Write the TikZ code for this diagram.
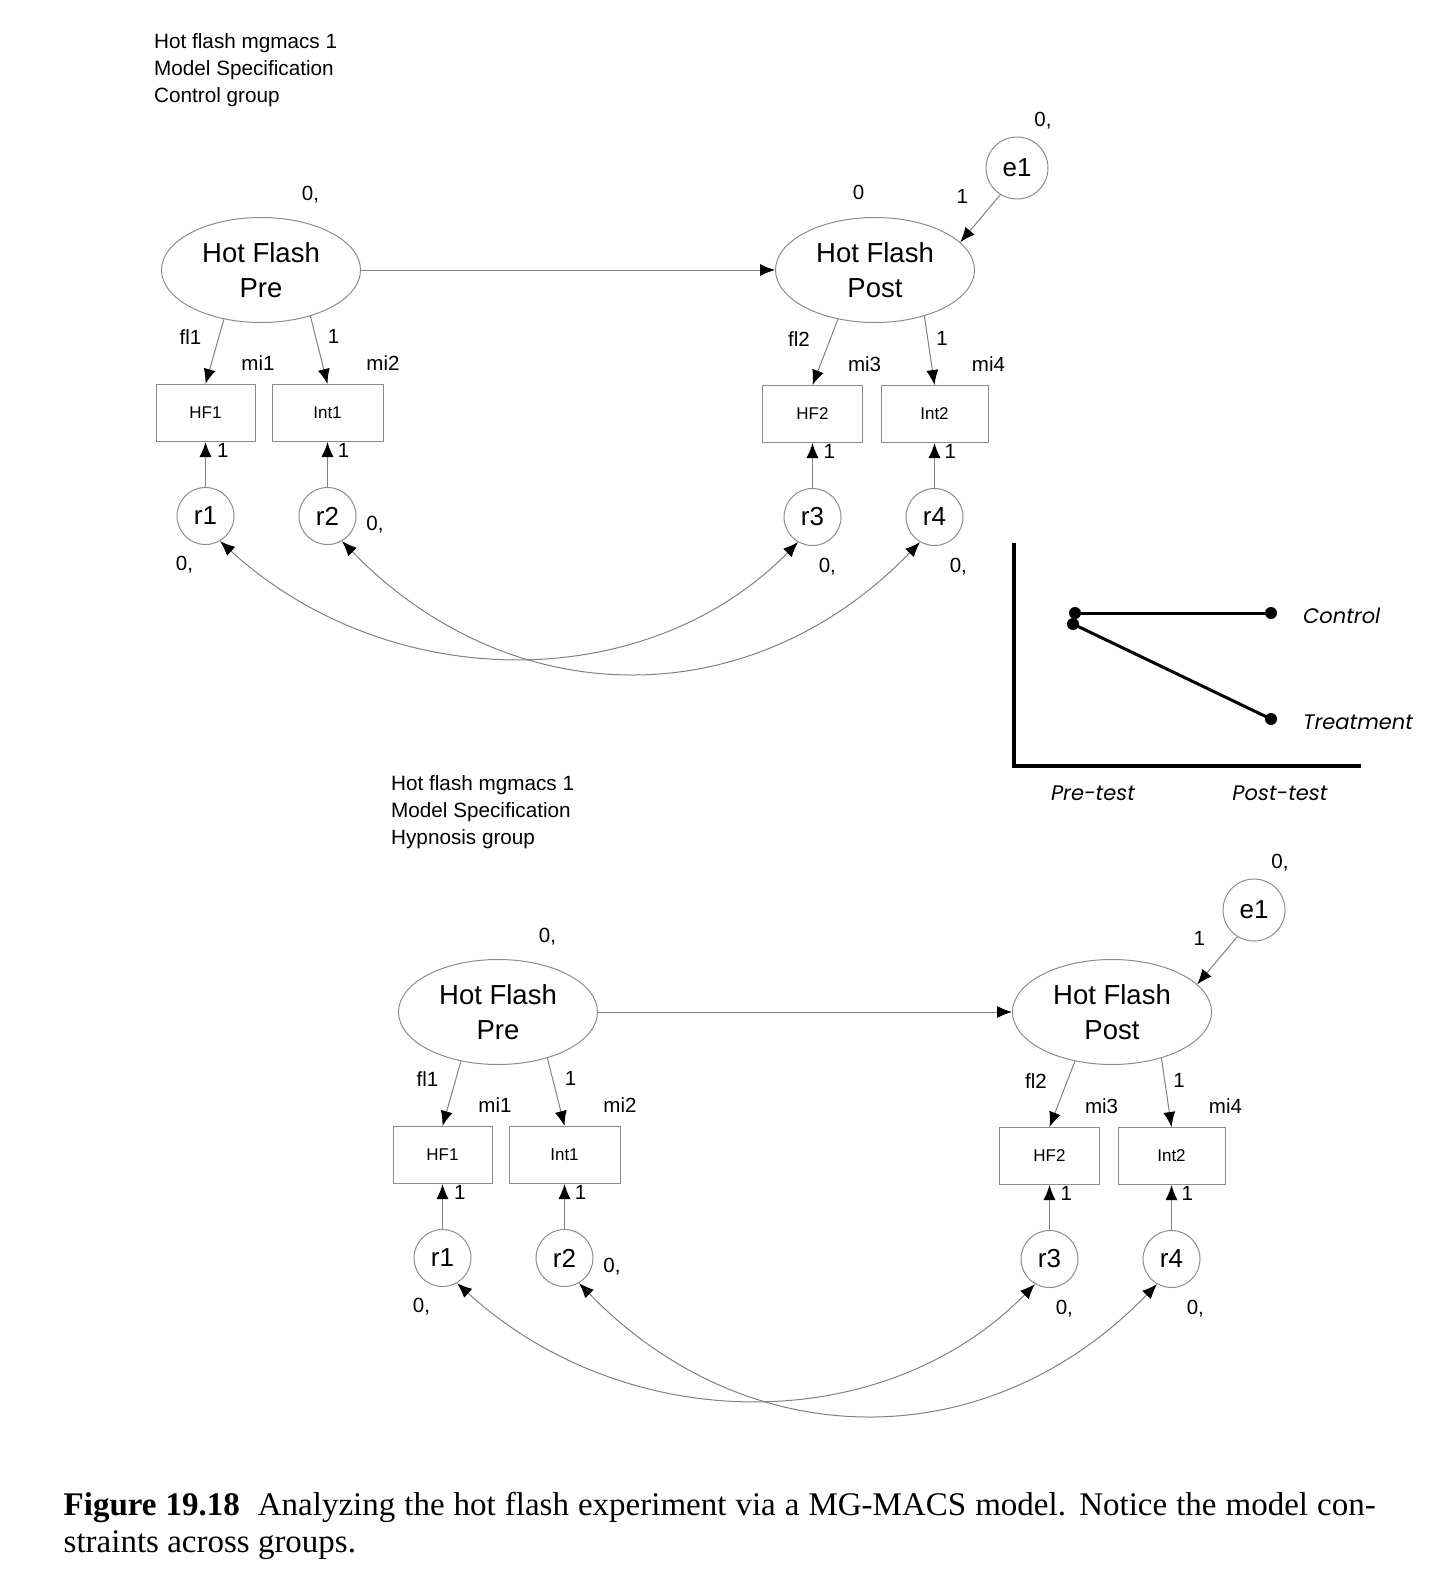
\documentclass[tikz,border=0pt]{standalone}
\usepackage{fontspec}
\setmainfont{Liberation Sans}
\newfontfamily\captionfont{Liberation Serif}
\newfontfamily\plotfont{Poppins}
\usetikzlibrary{arrows.meta}
\usetikzlibrary{shapes.geometric}

\tikzset{
    latent/.style={ellipse, draw=black!45, line width=1pt, minimum width=199pt, minimum height=105pt,
        inner sep=0pt, align=center, font=\fontsize{27.5}{35}\selectfont},
    resid/.style={circle, draw=black!45, line width=1pt, minimum size=57pt, inner sep=0pt,
        font=\fontsize{26}{30}\selectfont},
    indicator/.style={rectangle, draw=black!45, line width=1pt, minimum height=57pt, inner sep=0pt,
        font=\fontsize{17}{20}\selectfont},
    parm/.style={inner sep=0pt, font=\fontsize{20.5}{24}\selectfont},
    semarrow/.style={draw=black!50, line width=1pt, -{Latex[length=15pt,width=12pt,color=black]}},
    covarrow/.style={draw=black!50, line width=1pt,
        {Latex[length=15pt,width=12pt,color=black]}-{Latex[length=15pt,width=12pt,color=black]}},
    plotlabel/.style={inner sep=0pt, font=\plotfont\itshape\fontsize{21}{26}\selectfont}
}

\begin{document}
\begin{tikzpicture}[x=1pt, y=-1pt]
    \useasboundingbox (0,0) rectangle (1432,1580);

    % Draw the model of each group, the hypnosis one shifted down and right
    \foreach \grp/\dx/\dy/\gname in {c/0/0/Control group, h/237/742/Hypnosis group}
    {
    \begin{scope}[shift={(\dx,\dy)}, name prefix=\grp-]
        % Title of the group
        \node[parm, anchor=west, align=left, font=\fontsize{20.7}{27.2}\selectfont] (title)
            at (154,70) {Hot flash mgmacs 1\\Model Specification\\\gname};

        % Latent variables and the disturbance
        \node[latent] (pre) at (261,270) {Hot Flash\\Pre};
        \node[latent] (post) at (875,270) {Hot Flash\\Post};
        \node[resid, minimum size=62pt] (e1) at (1017,168) {e1};

        % Indicators
        \node[indicator, minimum width=99pt] (hf1) at (205.5,413) {HF1};
        \node[indicator, minimum width=111pt] (int1) at (327.5,413) {Int1};
        \node[indicator, minimum width=100pt] (hf2) at (812.5,414) {HF2};
        \node[indicator, minimum width=107pt] (int2) at (934.5,414) {Int2};

        % Residuals of the indicators
        \node[resid] (r1) at (205.5,516) {r1};
        \node[resid] (r2) at (327.5,516) {r2};
        \node[resid] (r3) at (812.5,517) {r3};
        \node[resid] (r4) at (934.5,517) {r4};

        % Regression and loading paths
        \draw[semarrow] (pre) -- (post);
        \draw[semarrow] (e1.238) -- (post.18);
        \draw[semarrow] (pre.233) -- (hf1.north);
        \draw[semarrow] (pre.317) -- (int1.north);
        \draw[semarrow] (post.233) -- (hf2.north);
        \draw[semarrow] (post.317) -- (int2.north);
        \draw[semarrow] (r1) -- (hf1);
        \draw[semarrow] (r2) -- (int1);
        \draw[semarrow] (r3) -- (hf2);
        \draw[semarrow] (r4) -- (int2);

        % Covariances between the residuals
        \draw[covarrow] (r1.300) .. controls (390,696) and (647,696) .. (r3.240);
        \draw[covarrow] (r2.300) .. controls (512,716) and (752,716) .. (r4.240);

        % Parameter labels
        \node[parm] (premean) at (310.4,194.5) {0,};
        \node[parm] (e1mean) at (1043,121) {0,};
        \node[parm] (e1load) at (962.4,196.5) {1};
        \node[parm] (fl1) at (190.5,336.6) {fl1};
        \node[parm] (int1load) at (333.5,336.6) {1};
        \node[parm] (mi1) at (258,362.8) {mi1};
        \node[parm] (mi2) at (383,362.8) {mi2};
        \node[parm] (fl2) at (799,338.6) {fl2};
        \node[parm] (int2load) at (942,338.6) {1};
        \node[parm] (mi3) at (864.6,363.8) {mi3};
        \node[parm] (mi4) at (988.5,363.8) {mi4};
        \node[parm] (r1load) at (222.7,450.5) {1};
        \node[parm] (r2load) at (343.6,450.5) {1};
        \node[parm] (r3load) at (829.3,451.5) {1};
        \node[parm] (r4load) at (950.3,451.5) {1};
        \node[parm] (r1mean) at (184.4,564.3) {0,};
        \node[parm] (r2mean) at (374.9,525) {0,};
        \node[parm] (r3mean) at (827.3,566.3) {0,};
        \node[parm] (r4mean) at (958.3,566.3) {0,};
    \end{scope}
    }

    % Only the control group shows the mean of Post
    \node[parm] (c-postmean) at (858.6,192.5) {0};

    % Sketch of the expected interaction
    \coordinate (ctlpre) at (1075,613);
    \coordinate (ctlpost) at (1271,613);
    \coordinate (trtpre) at (1073,624);
    \coordinate (trtpost) at (1271,719);
    \draw[line width=3.4pt] (1014,543) -- (1014,766) -- (1361,766);
    \draw[line width=3pt] (ctlpre) -- (ctlpost);
    \draw[line width=3pt] (trtpre) -- (trtpost);
    \foreach \pt in {ctlpre, ctlpost, trtpre, trtpost}
        \fill (\pt) circle (6pt);
    \node[plotlabel, anchor=west] (ctllab) at (1303,616) {Control};
    \node[plotlabel, anchor=west] (trtlab) at (1303,722) {Treatment};
    \node[plotlabel] (prelab) at (1093,793) {Pre-test};
    \node[plotlabel] (postlab) at (1280,793) {Post-test};

    % Caption
    \node[anchor=west, inner sep=0pt, font=\captionfont\fontsize{33}{37.5}\selectfont] (cap1) at (63.5,1507.5)
        {\makebox[1312pt][s]{\textbf{Figure 19.18}\ \ Analyzing the hot flash experiment via a MG-MACS model. Notice the model con-}};
    \node[anchor=west, inner sep=0pt, font=\captionfont\fontsize{33}{37.5}\selectfont] (cap2) at (63.5,1545)
        {straints across groups.};
\end{tikzpicture}
\end{document}
